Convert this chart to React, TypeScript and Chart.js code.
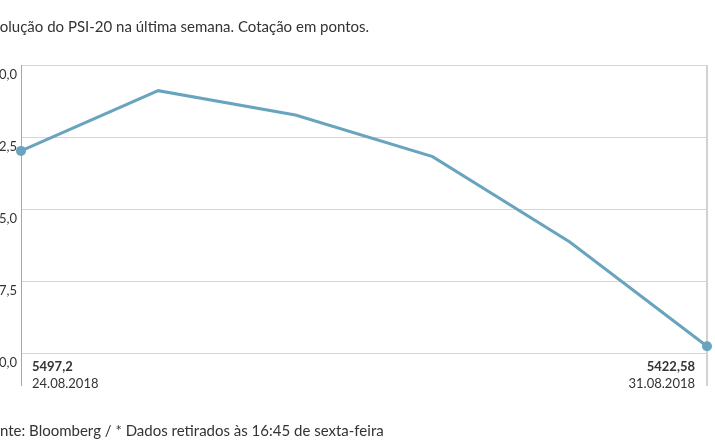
import { useEffect, useRef } from 'react';
import { Chart, registerables } from 'chart.js';

Chart.register(...registerables);

const dates = ['24.08.2018', '27.08.2018', '28.08.2018', '29.08.2018', '30.08.2018', '31.08.2018'];
const values = [5497.2, 5520.2, 5510.9, 5495.0, 5462.4, 5422.58];
const yTicks = [5420, 5447.5, 5475, 5502.5, 5530];
const titleText = 'Evolução do PSI-20 na última semana. Cotação em pontos.';
const sourceText = 'Fonte: Bloomberg / * Dados retirados às 16:45 de sexta-feira';

const FONT = 'Lato, "Open Sans", sans-serif';
const LINE_COLOR = '#69a4bf';

const fmtTick = (v: number) => v.toFixed(1).replace('.', ',');
const fmtVal = (v: number) => String(v).replace('.', ',');

const overlay = {
  id: 'overlay',
  beforeDatasetsDraw(chart: any) {
    const { ctx, chartArea: a, scales } = chart;
    const y = scales.y;
    ctx.save();
    // gridlines
    ctx.strokeStyle = '#d6d6d6';
    ctx.lineWidth = 1;
    yTicks.forEach((t) => {
      const py = Math.round(y.getPixelForValue(t)) + 0.5;
      ctx.beginPath();
      ctx.moveTo(a.left, py);
      ctx.lineTo(a.right, py);
      ctx.stroke();
    });
    // left axis line
    ctx.strokeStyle = '#a6a6a6';
    ctx.beginPath();
    ctx.moveTo(Math.round(a.left) + 0.5, a.top);
    ctx.lineTo(Math.round(a.left) + 0.5, a.bottom + 33);
    ctx.stroke();
    // right line
    ctx.strokeStyle = '#d2d2d2';
    ctx.lineWidth = 2;
    ctx.beginPath();
    ctx.moveTo(Math.round(a.right), a.top);
    ctx.lineTo(Math.round(a.right), a.bottom + 33);
    ctx.stroke();
    // y tick labels
    ctx.fillStyle = '#333';
    ctx.font = `13px ${FONT}`;
    ctx.textAlign = 'right';
    ctx.textBaseline = 'top';
    yTicks.forEach((t) => {
      const py = y.getPixelForValue(t);
      ctx.fillText(fmtTick(t), a.left - 4, py + 3);
    });
    ctx.restore();
  },
  afterDraw(chart: any) {
    const { ctx, chartArea: a } = chart;
    ctx.save();
    ctx.fillStyle = '#333';
    ctx.textBaseline = 'alphabetic';
    // title and source
    ctx.font = `15px ${FONT}`;
    ctx.textAlign = 'left';
    const tOff = ctx.measureText(titleText.slice(0, 2)).width;
    ctx.fillText(titleText, -tOff, 32);
    const sOff = ctx.measureText(sourceText.slice(0, 2)).width;
    ctx.fillText(sourceText, -sOff, 436);
    // annotations
    const last = values.length - 1;
    ctx.font = `bold 13px ${FONT}`;
    ctx.fillText(fmtVal(values[0]), a.left + 11, a.bottom + 18);
    ctx.font = `13px ${FONT}`;
    ctx.fillText(dates[0], a.left + 11, a.bottom + 35);
    ctx.textAlign = 'right';
    ctx.font = `bold 13px ${FONT}`;
    ctx.fillText(fmtVal(values[last]), a.right - 12, a.bottom + 18);
    ctx.font = `13px ${FONT}`;
    ctx.fillText(dates[last], a.right - 12, a.bottom + 35);
    ctx.restore();
  },
};

export default function App() {
  const ref = useRef<HTMLCanvasElement | null>(null);
  useEffect(() => {
    if (!ref.current) return;
    const last = values.length - 1;
    const chart = new Chart(ref.current, {
      type: 'line',
      data: {
        labels: dates,
        datasets: [
          {
            data: values,
            borderColor: LINE_COLOR,
            backgroundColor: LINE_COLOR,
            borderWidth: 3,
            tension: 0,
            clip: false as any,
            pointRadius: (c: any) => (c.dataIndex === 0 || c.dataIndex === last ? 5 : 0),
            pointHoverRadius: 5,
            pointBorderWidth: 0,
          },
        ],
      },
      options: {
        responsive: false,
        animation: false,
        layout: { padding: { left: 21, right: 8, top: 65, bottom: 92 } },
        plugins: { legend: { display: false }, tooltip: { enabled: false }, title: { display: false } },
        scales: {
          x: { display: false, offset: false },
          y: { display: false, min: 5420, max: 5530 },
        },
      },
      plugins: [overlay],
    });
    return () => chart.destroy();
  }, []);
  return (
    <div style={{ position: 'fixed', left: 0, top: 0, width: 715, height: 445, overflow: 'hidden', background: '#fff' }}>
      <canvas ref={ref} width={715} height={445} style={{ width: 715, height: 445, display: 'block' }} />
    </div>
  );
}
